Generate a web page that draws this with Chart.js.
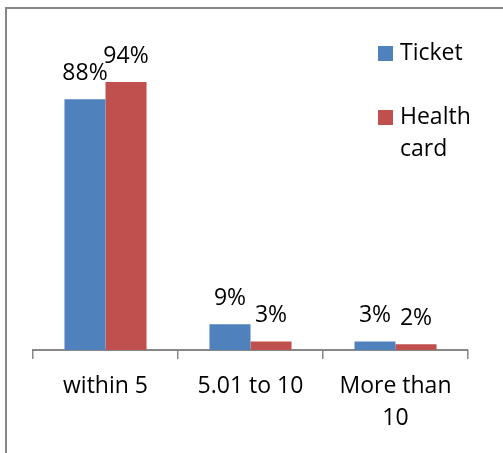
<!DOCTYPE html>
<html>
<head>
<meta charset="utf-8">
<script src="https://cdn.jsdelivr.net/npm/chart.js@4.4.0/dist/chart.umd.min.js"></script>
<style>
  html, body { margin: 0; padding: 0; background: #fff; overflow: hidden; }
  #wrap { position: relative; width: 503px; height: 453px; }
  #frame { position: absolute; left: 5px; top: 7px; width: 600px; height: 600px; border: 2px solid #888; box-sizing: border-box; }
  canvas { position: absolute; left: 0; top: 0; }
</style>
</head>
<body>
<div id="wrap">
  <div id="frame"></div>
  <canvas id="myChart" width="503" height="453"></canvas>
</div>
<script>
let categorias = ['within 5', '5.01 to 10', ['More than', '10']]
let ticket = [88, 9, 3]
let healthcard = [94, 3, 2]
let leyenda = [['Ticket'], ['Health', 'card']]
let colores = ['#4F81BD', '#C0504D']

const fuente = "'Open Sans', sans-serif"

// etiquetas de porcentaje encima de cada barra
const etiquetas = {
  id: 'etiquetas',
  afterDatasetsDraw(chart) {
    const ctx = chart.ctx
    ctx.save()
    ctx.font = '23px ' + fuente
    ctx.fillStyle = '#000'
    ctx.textAlign = 'center'
    ctx.textBaseline = 'alphabetic'
    chart.data.datasets.forEach((ds, i) => {
      chart.getDatasetMeta(i).data.forEach((bar, j) => {
        ctx.fillText(ds.data[j] + '%', bar.x, bar.y - 19)
      })
    })
    ctx.restore()
  }
}

// leyenda a mano, con texto en dos lineas
const leyendaPlugin = {
  id: 'leyendaPlugin',
  afterDraw(chart) {
    const ctx = chart.ctx
    ctx.save()
    ctx.font = '23px ' + fuente
    ctx.textBaseline = 'middle'
    let y = 53
    for (let i = 0; i < leyenda.length; i++) {
      ctx.fillStyle = colores[i]
      ctx.fillRect(378, y - 7, 15, 15)
      ctx.fillStyle = '#000'
      for (let k = 0; k < leyenda[i].length; k++) {
        ctx.fillText(leyenda[i][k], 400, y + k * 32)
      }
      y += 64
    }
    ctx.restore()
  }
}

const config = {
  type: 'bar',
  data: {
    labels: categorias,
    datasets: [
      { label: 'Ticket', data: ticket, backgroundColor: colores[0] },
      { label: 'Health card', data: healthcard, backgroundColor: colores[1] }
    ]
  },
  options: {
    responsive: false,
    animation: false,
    layout: { padding: { top: 65, left: 33, right: 35, bottom: 0 } },
    plugins: { legend: { display: false }, tooltip: { enabled: false } },
    datasets: { bar: { barPercentage: 1, categoryPercentage: 0.566 } },
    scales: {
      x: {
        afterFit(scale) { scale.height = 103 },
        grid: { drawOnChartArea: false, tickLength: 9, color: '#888', lineWidth: 1.5 },
        border: { color: '#888', width: 2 },
        ticks: { color: '#000', font: { family: fuente, size: 23, lineHeight: 1.39 }, padding: 11, maxRotation: 0 }
      },
      y: { display: false, min: 0, max: 100 }
    }
  },
  plugins: [etiquetas, leyendaPlugin]
}

window.onload = function () {
  new Chart(document.getElementById('myChart'), config)
}
</script>
</body>
</html>
